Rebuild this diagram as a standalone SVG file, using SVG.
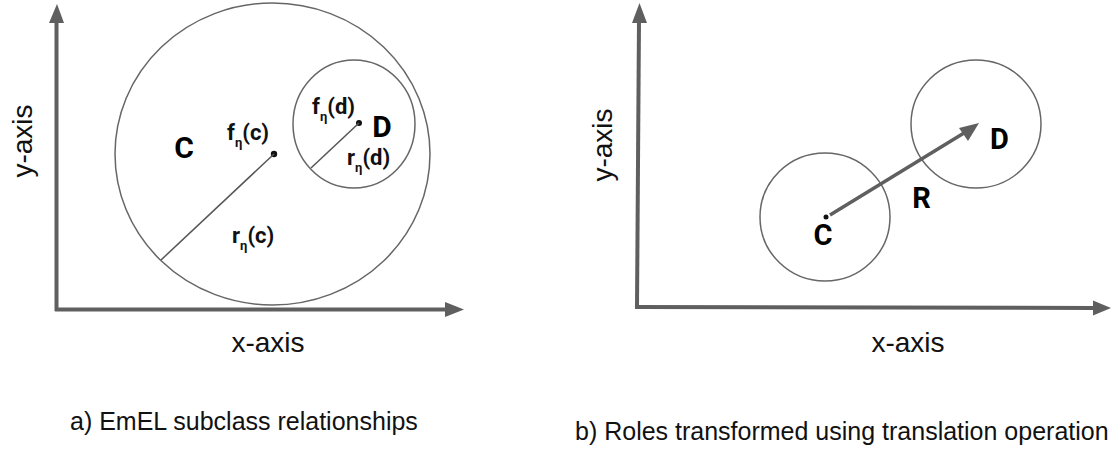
<svg xmlns="http://www.w3.org/2000/svg" width="1111" height="455" viewBox="0 0 1111 455">
<style>
.axis{stroke:#5f5f5f;stroke-width:4;fill:none}
.head{fill:#5f5f5f}
.circ{fill:none;stroke:#666;stroke-width:1.5}
.rad{stroke:#555;stroke-width:1.5}
.big{font-family:Roboto,"Liberation Sans",sans-serif;font-weight:bold;fill:#000}
.lbl{font-family:Roboto,"Liberation Sans",sans-serif;font-weight:bold;font-size:22px;fill:#111}
.ax{font-family:"Liberation Sans",Arial,sans-serif;font-size:28px;fill:#111}
.cap{font-family:"Liberation Sans",Arial,sans-serif;font-size:25px;fill:#111}
</style>
<rect width="1111" height="455" fill="#fff"/>
<g id="axes-a">
<line class="axis" x1="56.5" y1="311" x2="56.5" y2="20"/>
<polygon class="head" points="49,23 64,23 57,4"/>
<line class="axis" x1="55" y1="309.5" x2="446" y2="309.5"/>
<polygon class="head" points="445,302 445,317 464,309.5"/>
<text class="ax" transform="translate(32,141) rotate(-90)" text-anchor="middle">y-axis</text>
<text class="ax" x="268" y="352" text-anchor="middle">x-axis</text>
</g>
<g id="node-C-a">
<ellipse class="circ" cx="272.5" cy="154" rx="157.5" ry="151"/>
<text class="big" x="184" y="158" font-size="30" text-anchor="middle">C</text>
<circle cx="274" cy="154" r="3.2" fill="#111"/>
<text class="lbl" x="227" y="140">f<tspan font-size="13" dy="7">η</tspan><tspan dy="-7">(c)</tspan></text>
<text class="lbl" x="232" y="243">r<tspan font-size="13" dy="7">η</tspan><tspan dy="-7">(c)</tspan></text>
</g>
<g id="node-D-a">
<ellipse class="circ" cx="354" cy="124" rx="61" ry="64"/>
<text class="big" x="382" y="137" font-size="30" text-anchor="middle">D</text>
<circle cx="359" cy="123" r="3" fill="#111"/>
<text class="lbl" x="312" y="114">f<tspan font-size="13" dy="7">η</tspan><tspan dy="-7">(d)</tspan></text>
<text class="lbl" x="347" y="165">r<tspan font-size="13" dy="7">η</tspan><tspan dy="-7">(d)</tspan></text>
</g>
<g id="axes-b">
<line class="axis" x1="637" y1="308" x2="639" y2="20"/>
<polygon class="head" points="632,23 647,23 639.5,3"/>
<line class="axis" x1="635" y1="307" x2="1094" y2="308"/>
<polygon class="head" points="1093,300.5 1093,315.5 1111,308"/>
<text class="ax" transform="translate(612,145) rotate(-90)" text-anchor="middle">y-axis</text>
<text class="ax" x="908" y="352" text-anchor="middle">x-axis</text>
</g>
<g id="node-C-b">
<ellipse class="circ" cx="825" cy="217" rx="65" ry="64"/>
<circle cx="826" cy="217" r="2.5" fill="#111"/>
<text class="big" x="823" y="245" font-size="29" text-anchor="middle">C</text>
</g>
<g id="node-D-b">
<ellipse class="circ" cx="976" cy="124" rx="65" ry="64"/>
<text class="big" x="999.5" y="149" font-size="29" text-anchor="middle">D</text>
</g>
<g id="connectors">
<line class="rad" x1="274" y1="154" x2="161" y2="260"/>
<line class="rad" x1="359" y1="123" x2="311" y2="168"/>
<line x1="830" y1="215" x2="964" y2="133" stroke="#5f5f5f" stroke-width="3.5"/>
<polygon class="head" points="979,123 959,128 968,141"/>
<text class="big" x="921.5" y="208" font-size="29" text-anchor="middle">R</text>
</g>
<g id="captions">
<text class="cap" x="70" y="430">a) EmEL subclass relationships</text>
<text class="cap" x="575" y="440">b) Roles transformed using translation operation</text>
</g>
</svg>
